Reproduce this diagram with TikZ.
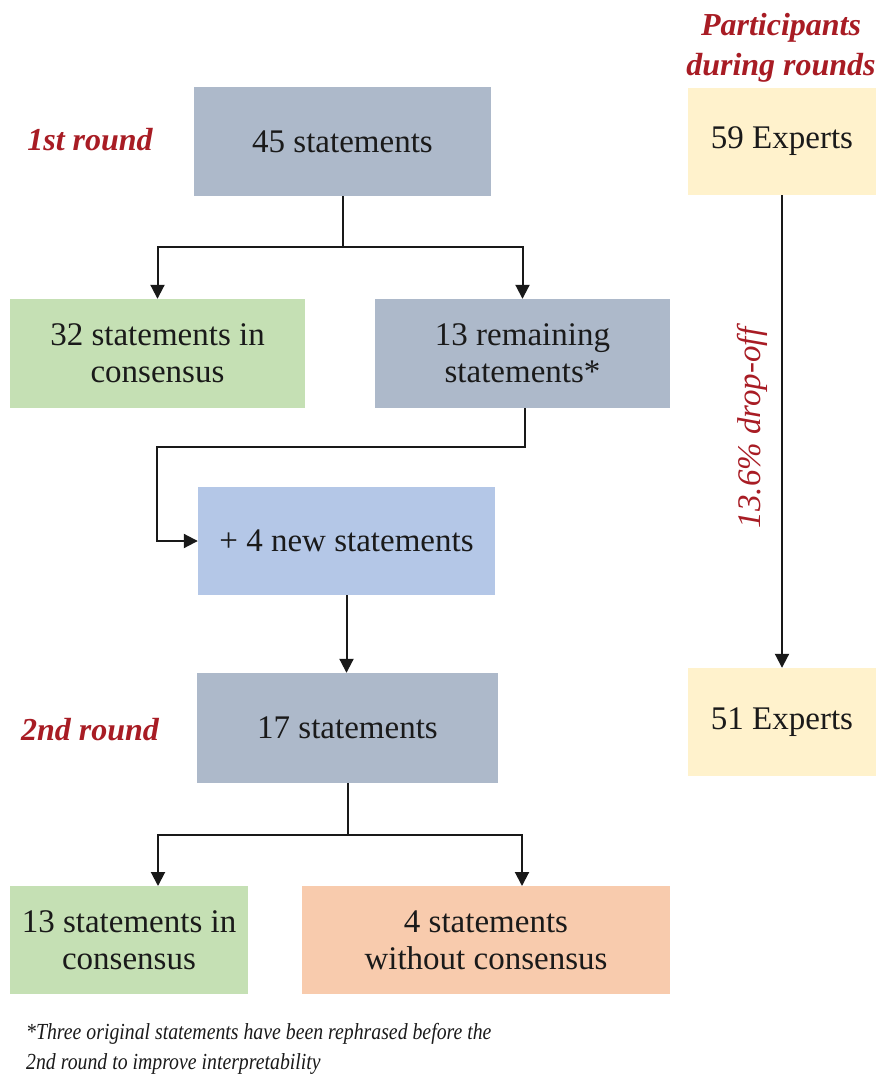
\documentclass[tikz,border=0pt]{standalone}
\usepackage{fontspec}
\setmainfont{Liberation Serif}
\newfontfamily\fnfont[FakeStretch=0.86]{Liberation Serif}
\usetikzlibrary{arrows.meta}
\definecolor{bgray}{HTML}{ADB9CA}
\definecolor{bgreen}{HTML}{C5E0B4}
\definecolor{bblue}{HTML}{B4C7E7}
\definecolor{bpeach}{HTML}{F8CBAD}
\definecolor{byellow}{HTML}{FFF2CC}
\definecolor{dred}{HTML}{A81C24}
\definecolor{txt}{HTML}{1A1A1A}
\begin{document}
\begin{tikzpicture}[x=1pt,y=-1pt,
  box/.style={draw=none,minimum height=108pt,inner sep=0pt,align=center,
    text=txt,font=\fontsize{33}{37}\selectfont},
  lbl/.style={text=dred,font=\fontsize{32}{40}\selectfont\bfseries\itshape,align=center},
  conn/.style={line width=2pt,draw=black!90},
  arr/.style={conn,-{Triangle[width=14pt,length=14pt]}}]
\useasboundingbox[fill=white] (0,0) rectangle (893,1081);
% boxes
\node[box,fill=bgray,minimum width=297pt,minimum height=109pt] (b45) at (342.5,141.5) {45 statements};
\node[box,fill=bgreen,minimum width=295pt,minimum height=109pt] (b32) at (157.5,353.5) {32 statements in\\consensus};
\node[box,fill=bgray,minimum width=295pt,minimum height=109pt] (b13r) at (522.5,353.5) {13 remaining\\statements*};
\node[box,fill=bblue,minimum width=297pt] (bnew) at (346.5,541) {+ 4 new statements};
\node[box,fill=bgray,minimum width=301pt,minimum height=110pt] (b17) at (347.5,728) {17 statements};
\node[box,fill=bgreen,minimum width=238pt] (b13c) at (129,940) {13 statements in\\consensus};
\node[box,fill=bpeach,minimum width=368pt] (b4) at (486,940) {4 statements\\without consensus};
\node[box,fill=byellow,minimum width=188pt,minimum height=107pt] (e59) at (782,141.5) {59 Experts};
\node[box,fill=byellow,minimum width=188pt] (e51) at (782,722) {51 Experts};
% labels
\node[lbl] (r1) at (90,140) {1st round};
\node[lbl] (r2) at (90,730) {2nd round};
\node[lbl] (part) at (781,48) {Participants\\during rounds};
\node[rotate=90,text=dred,font=\fontsize{33}{37}\selectfont\itshape] (drop) at (752,428) {13.6\% drop-off};
% connectors
\coordinate (j1) at (342.5,247);
\draw[conn] (b45.south) -- (j1);
\draw[arr] (j1) -| (b32.north);
\draw[arr] (j1) -| (b13r.north);
\coordinate (k1) at (525,447);
\coordinate (k2) at (157,447);
\draw[arr] (b13r.south -| k1) -- (k1) -- (k2) |- (bnew.west);
\draw[arr] (bnew.south) -- (bnew.south |- b17.north);
\coordinate (j2) at (347.5,835);
\coordinate (t13) at (158,886);
\coordinate (t4) at (522,886);
\draw[conn] (b17.south) -- (j2);
\draw[arr] (j2) -| (t13);
\draw[arr] (j2) -| (t4);
\draw[arr] (e59.south) -- (e51.north);
% footnote
\node[anchor=west,align=left,text=txt,font=\fnfont\fontsize{23}{30}\selectfont\itshape,inner sep=0pt] (fn) at (26,1049) {*Three original statements have been rephrased before the\\2nd round to improve interpretability};
\end{tikzpicture}
\end{document}
